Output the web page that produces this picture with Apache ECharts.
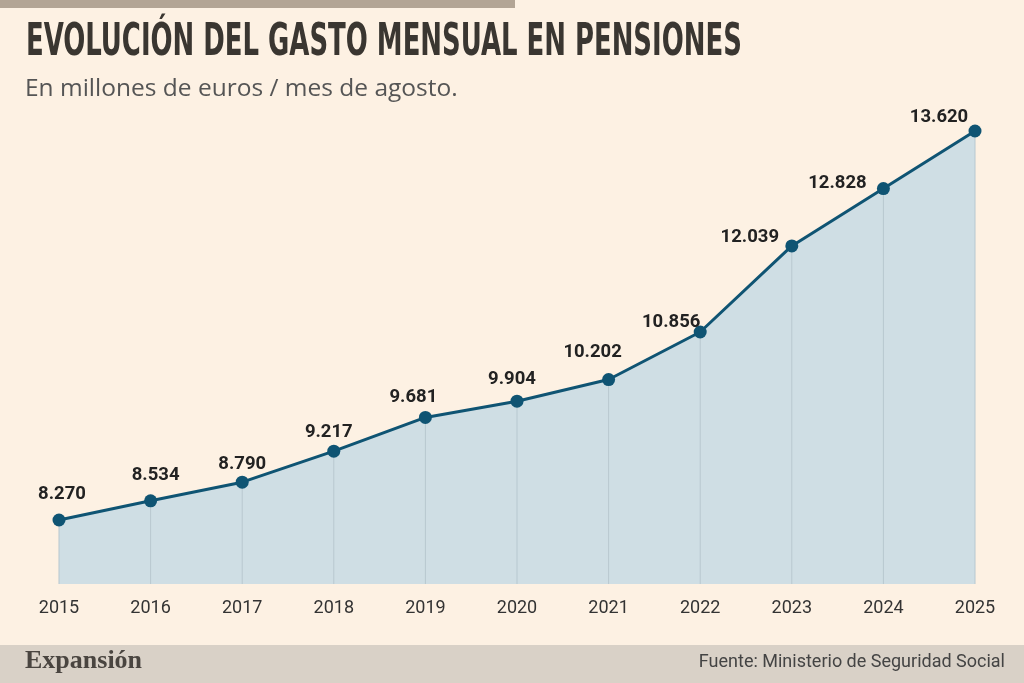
<!DOCTYPE html>
<html>
<head>
<meta charset="utf-8">
<script src="https://cdn.jsdelivr.net/npm/echarts@6/dist/echarts.min.js"></script>
<style>
  html, body { margin: 0; padding: 0; background: #fdf1e3; }
  #chart { width: 1024px; height: 683px; }
</style>
</head>
<body>
<div id="chart"></div>
<script>
// datos: gasto mensual en pensiones (millones de euros, agosto)
var years = ['2015', '2016', '2017', '2018', '2019', '2020', '2021', '2022', '2023', '2024', '2025'];
var gasto = [8270, 8534, 8790, 9217, 9681, 9904, 10202, 10856, 12039, 12828, 13620];

// ajuste fino de etiquetas (solo estilo)
var labelShift = [[3, -10], [5, -9], [0, -2], [-5, -3], [-12, -4], [-5, -6], [-16, -11], [-29, 6], [-42, 7], [-46, 11], [-36, 2]];

function fmt(v) {
    return String(v).replace(/\B(?=(\d{3})+(?!\d))/g, '.');
}

var lineData = gasto.map(function (v, i) {
    return {
        value: v,
        label: { offset: labelShift[i] }
    };
});

var chart = echarts.init(document.getElementById('chart'));
chart.setOption({
    backgroundColor: '#fdf1e3',
    animation: false,
    title: [
        {
            text: 'En millones de euros / mes de agosto.',
            left: 25, top: 77, padding: 0,
            textStyle: { fontFamily: 'Open Sans', fontWeight: 'normal', fontSize: 24.5, color: '#555' }
        }
    ],
    graphic: [
        { type: 'rect', left: 0, top: 0, shape: { width: 515, height: 8 }, style: { fill: '#b3a595' } },
        {
            type: 'text', x: 26, y: 22, scaleX: 0.655,
            style: { text: 'EVOLUCIÓN DEL GASTO MENSUAL EN PENSIONES', font: 'bold 44px "DejaVu Sans Condensed"', fill: '#3a3631', verticalAlign: 'top' }
        },
        { type: 'rect', left: 0, top: 645, shape: { width: 1024, height: 38 }, style: { fill: '#d9d1c7' } },
        { type: 'text', left: 25, top: 648, style: { text: 'Expansión', font: 'bold 26px "Liberation Serif"', fill: '#4a4540' } },
        { type: 'text', right: 19, top: 653, style: { text: 'Fuente: Ministerio de Seguridad Social', font: '18px Roboto', fill: '#444' } }
    ],
    grid: { left: 59, right: 49, top: 131, bottom: 99 },
    xAxis: {
        type: 'category',
        data: years,
        boundaryGap: false,
        axisLine: { show: false },
        axisTick: { show: false },
        axisLabel: { margin: 15, fontSize: 18, fontFamily: 'Roboto', color: '#333' }
    },
    yAxis: {
        type: 'value',
        min: 7390, max: 13620,
        show: false,
        splitLine: { show: false }
    },
    series: [
        {
            // área
            type: 'line',
            data: gasto,
            clip: false,
            symbol: 'none',
            lineStyle: { width: 0 },
            areaStyle: { color: '#cfdee4', opacity: 1, origin: 'start' },
            silent: true,
            z: 1
        },
        {
            // líneas verticales bajo cada punto
            type: 'bar',
            data: gasto,
            barWidth: 1,
            itemStyle: { color: '#b8c8cf' },
            silent: true,
            z: 2
        },
        {
            type: 'line',
            data: lineData,
            clip: false,
            lineStyle: { color: '#0f5473', width: 3 },
            itemStyle: { color: '#0f5473' },
            symbol: 'circle',
            symbolSize: 13,
            label: {
                show: true,
                position: 'top',
                distance: 0,
                formatter: function (p) { return fmt(p.value); },
                fontFamily: 'Roboto',
                fontWeight: 'bold',
                fontSize: 18.5,
                color: '#222'
            },
            z: 3
        }
    ]
});
</script>
</body>
</html>
